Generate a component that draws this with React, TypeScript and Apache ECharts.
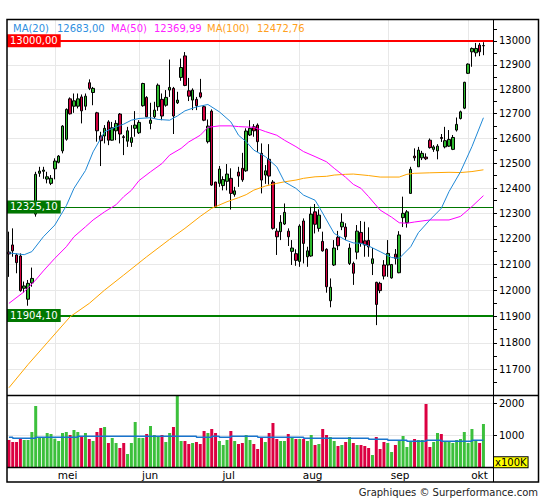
import React, { useEffect, useRef } from "react";
import * as echarts from "echarts";

// ---- data ----
const opens = [12148,12176,12137,12133,12008,11966,12029,12297,12459,12467,
12436,12419,12477,12503,12549,12596,12760,12730,12730,12768,
12730,12826,12786,12703,12609,12609,12666,12592,12630,12698,
12606,12588,12583,12640,12622,12732,12766,12660,12687,12728,
12758,12734,12796,12803,12744,12848,12937,12793,12755,12758,
12785,12728,12586,12710,12424,12419,12410,12427,12439,12375,
12464,12479,12469,12613,12646,12653,12539,12452,12515,12424,
12230,12228,12258,12230,12151,12142,12112,12270,12130,12133,
12306,12241,12190,12159,11960,12098,12206,12247,12246,12104,
12104,12148,12225,12192,12194,12104,12031,12027,12098,12098,
12048,12140,12068,12283,12263,12379,12528,12485,12521,12524,
12592,12555,12549,12603,12565,12568,12555,12633,12680,12722,
12865,12954,12950,12982,12979];

const highs = [12228,12241,12143,12143,12034,12040,12088,12465,12485,12485,
12465,12452,12519,12532,12653,12721,12766,12782,12782,12778,
12782,12840,12809,12707,12626,12653,12673,12666,12673,12702,
12613,12646,12653,12710,12673,12826,12771,12744,12748,12823,
12782,12796,12922,12809,12789,12926,12953,12846,12803,12768,
12842,12734,12676,12717,12425,12488,12447,12496,12479,12405,
12485,12541,12640,12673,12657,12660,12579,12492,12576,12432,
12241,12293,12339,12241,12195,12159,12257,12280,12169,12326,
12337,12316,12228,12163,12046,12195,12231,12300,12261,12182,
12111,12254,12270,12267,12245,12164,12033,12033,12117,12195,
12102,12160,12230,12366,12313,12485,12559,12565,12549,12539,
12599,12572,12576,12617,12646,12633,12613,12684,12712,12830,
12906,12972,12991,12991,12994];

const lows = [12052,12130,12066,11995,11991,11941,12014,12287,12445,12437,
12419,12412,12435,12499,12539,12590,12696,12703,12721,12660,
12714,12796,12734,12586,12488,12579,12572,12590,12592,12579,
12532,12565,12565,12606,12617,12728,12685,12636,12680,12711,
12673,12728,12768,12617,12739,12834,12812,12751,12714,12714,
12762,12669,12579,12409,12322,12405,12391,12391,12315,12366,
12405,12425,12465,12609,12606,12545,12379,12417,12414,12236,
12137,12195,12254,12172,12098,12095,12091,12104,12091,12130,
12221,12228,12150,11991,11935,12094,12156,12234,12195,12098,
12021,12120,12169,12130,12130,12059,11867,11989,12042,12052,
12045,12100,12066,12246,12244,12379,12509,12485,12512,12512,
12558,12545,12515,12585,12559,12565,12552,12627,12676,12718,
12862,12892,12934,12936,12940];

const closes = [12141,12153,12107,11999,12017,12027,12046,12455,12468,12472,
12445,12439,12508,12528,12649,12717,12699,12752,12760,12711,
12771,12803,12803,12630,12590,12640,12592,12642,12660,12617,
12603,12630,12602,12653,12664,12823,12687,12673,12714,12816,
12690,12766,12807,12690,12755,12889,12815,12771,12796,12732,
12768,12673,12649,12412,12326,12476,12434,12456,12379,12389,
12448,12433,12629,12640,12630,12586,12432,12469,12448,12241,
12208,12265,12304,12208,12164,12116,12250,12182,12153,12297,
12257,12293,12153,12014,12012,12164,12173,12265,12208,12164,
12066,12230,12182,12176,12168,12122,11946,11999,12055,12143,
12100,12124,12215,12300,12306,12475,12521,12552,12539,12517,
12562,12565,12568,12599,12590,12595,12603,12656,12707,12828,
12903,12968,12968,12954,12980];

// volume in units of 100K
const volumes = [844,781,781,886,844,844,1094,1907,938,917,
1063,1031,886,813,1063,1094,1000,1157,1094,969,
1063,875,813,1094,1219,1250,750,906,750,594,
750,406,750,1407,906,906,1031,1282,1000,969,
1000,781,1063,1250,2400,813,813,719,750,781,
719,1125,1063,1188,1063,813,688,844,1125,813,
719,750,1000,844,719,563,906,781,1063,1375,
875,813,813,1031,906,875,875,875,813,1000,
688,719,1188,1000,938,813,656,688,781,938,
750,688,688,656,594,375,938,563,781,750,
469,688,844,969,625,781,875,844,844,1969,
625,781,1063,1031,781,781,750,844,875,1094,
750,1188,844,750,1344];

// volume moving average, [candle index, value] at each change
const volMa = [[0,927],[1,896],[7,927],[18,958],[49,927],[53,958],[55,927],[58,958],
[65,927],[77,896],[94,865],[99,833],[104,802],[109,833],[113,802],[121,833],[124,833]];

const ma20 = [[0,12145],[4,12138],[6,12150],[9,12208],[12,12254],[15,12330],[17,12399],[20,12470],
[22,12545],[25,12626],[28,12646],[30,12657],[32,12673],[34,12680],[37,12683],[39,12676],[42,12673],
[44,12690],[46,12711],[49,12727],[52,12737],[55,12707],[58,12666],[60,12612],[62,12586],[64,12552],
[67,12526],[70,12485],[72,12425],[75,12399],[77,12372],[80,12352],[81,12327],[83,12274],[85,12221],
[88,12195],[90,12184],[92,12182],[94,12172],[97,12150],[100,12127],[102,12124],[105,12169],
[107,12224],[110,12274],[113,12320],[115,12386],[118,12465],[121,12566],[124,12683]];

const ma50 = [[0,11950],[4,11995],[7,12040],[9,12075],[12,12124],[15,12169],[17,12208],[20,12247],
[22,12274],[25,12306],[28,12334],[30,12366],[32,12391],[34,12430],[37,12465],[40,12498],[42,12532],
[45,12559],[47,12585],[50,12612],[52,12644],[55,12650],[58,12650],[60,12647],[64,12644],[67,12627],
[70,12612],[72,12592],[75,12566],[77,12546],[80,12526],[83,12505],[85,12479],[88,12443],[90,12415],
[92,12399],[94,12366],[97,12313],[100,12285],[102,12263],[104,12261],[106,12266],[110,12274],
[115,12274],[118,12288],[121,12327],[124,12370]];

const ma100 = [[0,11631],[5,11718],[10,11800],[16,11899],[21,11950],[25,12001],[30,12059],[36,12130],
[42,12198],[46,12241],[50,12288],[53,12320],[57,12346],[60,12362],[62,12374],[64,12392],[67,12408],
[70,12419],[72,12425],[75,12432],[77,12439],[80,12445],[83,12447],[85,12452],[88,12455],[90,12456],
[94,12450],[97,12444],[102,12444],[104,12455],[106,12459],[110,12461],[115,12463],[118,12462],
[121,12466],[124,12473]];

const monthStarts = [12, 34, 55, 76, 99, 120];
const monthNames = ["mei", "jun", "jul", "aug", "sep", "okt"];
const priceTicks = [11700,11800,11900,12000,12100,12200,12300,12400,12500,12600,12700,12800,12900,13000];
const priceMinorTicks = [11650,11700,11750,11800,11850,11900,11950,12000,12050,12100,12150,12200,12250,
12300,12350,12400,12450,12500,12550,12600,12650,12700,12750,12800,12850,12900,12950,13000,13050];
const volumeTicks = [1000, 2000];
const levelValues = [13000, 12325.1, 11904.1];
const levelLabels = ["13000,00", "12325,10", "11904,10"];
const legendNames = ["MA(20)", "MA(50)", "MA(100)"];
const legendValues = ["12683,00", "12369,99", "12472,76"];
const EMPTY_TRAILING = 2;

// ---- styles ----
const FONT = "DejaVu Sans";
const UP = "#2db82d";
const DOWN = "#d2003e";
const VOL_UP = "#3cc03c";
const VOL_DOWN = "#dc0041";
const MA_COLORS = ["#1f88d6", "#ff00ff", "#ffa500"];
const LEGEND_COLORS = ["#2f8fe0", "#ff22ff", "#ffa020"];
const LEVEL_COLORS = ["#ff0000", "#007700", "#008000"];
const LEVEL_WIDTHS = [2, 1, 2];
const LEVEL_BG = ["#ff0000", "#007700", "#007700"];
const GRID_COLOR = "#e8e8e8";
const Y_MIN = 11604;
const Y_MAX = 13091;

export default function App() {
  const ref = useRef<HTMLDivElement>(null);

  useEffect(() => {
    document.body.style.margin = "0";
    const chart = echarts.init(ref.current as HTMLDivElement, null, { renderer: "svg" });
    const n = opens.length + EMPTY_TRAILING;
    const categories = Array.from({ length: n }, (_, i) => "d" + i);

    const candleData = opens.map((o, i) => [o, closes[i], lows[i], highs[i]]);
    const volData = volumes.map((v, i) => ({
      value: v,
      itemStyle: { color: closes[i] >= opens[i] ? VOL_UP : VOL_DOWN },
    }));

    const vGrid = monthStarts.map((i) => ({ xAxis: i }));
    const hGrid = priceTicks.map((v) => ({ yAxis: v }));

    const option: any = {
      animation: false,
      backgroundColor: "#ffffff",
      textStyle: { fontFamily: FONT },
      grid: [
        { left: 7, top: 19, width: 486, height: 376, containLabel: false, outerBoundsMode: "none" },
        { left: 7, top: 395, width: 486, height: 72, containLabel: false, outerBoundsMode: "none" },
      ],
      xAxis: [
        {
          type: "category", gridIndex: 0, data: categories, boundaryGap: true,
          axisLine: { show: false }, axisTick: { show: false }, axisLabel: { show: false }, splitLine: { show: false },
        },
        {
          type: "category", gridIndex: 1, data: categories, boundaryGap: true,
          axisLine: { show: false }, axisTick: { show: false }, splitLine: { show: false },
          axisLabel: {
            interval: (i: number) => monthStarts.indexOf(i) >= 0,
            formatter: (_v: string, i: number) => {
              const k = monthStarts.indexOf(i);
              return k >= 0 ? monthNames[k] : "";
            },
            align: "left", padding: [0, 0, 0, 3], margin: 2,
            fontSize: 10.5, color: "#000", fontFamily: FONT,
          },
        },
      ],
      yAxis: [
        {
          type: "log", logBase: 10, gridIndex: 0, position: "left", min: Y_MIN, max: Y_MAX, show: false,
        },
        {
          type: "value", gridIndex: 0, position: "right", min: Math.log(Y_MIN), max: Math.log(Y_MAX),
          axisLine: { show: false }, splitLine: { show: false },
          axisTick: { show: true, customValues: priceMinorTicks.map((v) => Math.log(v)), length: 4, lineStyle: { color: "#000" } },
          axisLabel: {
            customValues: priceTicks.map((v) => Math.log(v)),
            formatter: (v: number) => String(Math.round(Math.exp(v))),
            fontSize: 10, color: "#000", margin: 6, padding: [0, 0, 3, 0], fontFamily: FONT,
          },
        },
        {
          type: "value", gridIndex: 1, position: "right", min: 0, max: 2250, interval: 1000,
          axisLine: { show: false },
          splitLine: { show: true, lineStyle: { color: GRID_COLOR, width: 1 } },
          axisTick: { show: true, customValues: volumeTicks, length: 4, lineStyle: { color: "#000" } },
          axisLabel: {
            customValues: volumeTicks,
            formatter: (v: number) => String(Math.round(v)),
            fontSize: 10, color: "#000", margin: 6, padding: [0, 0, 3, 0], fontFamily: FONT,
          },
        },
      ],
      series: [
        {
          type: "candlestick", name: "price", xAxisIndex: 0, yAxisIndex: 0, data: candleData, barWidth: 3, z: 3,
          itemStyle: { color: UP, color0: DOWN, borderColor: "#000", borderColor0: "#000", borderWidth: 1 },
          markLine: {
            z: 2, silent: true, symbol: ["none", "none"], label: { show: false }, animation: false,
            data: levelValues.map((v, k) => ({ yAxis: v, lineStyle: { color: LEVEL_COLORS[k], width: LEVEL_WIDTHS[k], type: "solid" } })),
          },
        },
        {
          type: "line", name: "MA(100)", xAxisIndex: 0, yAxisIndex: 0, data: ma100, showSymbol: false, z: 4,
          lineStyle: { color: MA_COLORS[2], width: 1 },
          markLine: {
            z: 1, silent: true, symbol: ["none", "none"], label: { show: false }, animation: false,
            lineStyle: { color: GRID_COLOR, width: 1, type: "solid" },
            data: [...vGrid, ...hGrid],
          },
        },
        {
          type: "line", name: "MA(50)", xAxisIndex: 0, yAxisIndex: 0, data: ma50, showSymbol: false, z: 4,
          lineStyle: { color: MA_COLORS[1], width: 1 },
        },
        {
          type: "line", name: "MA(20)", xAxisIndex: 0, yAxisIndex: 0, data: ma20, showSymbol: false, z: 4,
          lineStyle: { color: MA_COLORS[0], width: 1 },
        },
        {
          type: "bar", name: "volume", xAxisIndex: 1, yAxisIndex: 2, data: volData, barWidth: 3, z: 3,
          markLine: {
            z: 1, silent: true, symbol: ["none", "none"], label: { show: false }, animation: false,
            lineStyle: { color: GRID_COLOR, width: 1, type: "solid" },
            data: vGrid,
          },
        },
        {
          type: "line", name: "volMA", xAxisIndex: 1, yAxisIndex: 2, data: volMa, step: "end", showSymbol: false, z: 4,
          lineStyle: { color: "#1874cd", width: 1.5 },
        },
      ],
    };

    chart.setOption(option);

    const py = (v: number) => chart.convertToPixel({ yAxisIndex: 0 }, v) as number;
    const legendX = [13, 57, 111, 154, 207, 257];
    const graphics: any[] = [];
    legendNames.forEach((name, k) => {
      graphics.push({
        type: "text", x: legendX[k * 2], y: 28, z: 60, silent: true,
        style: { text: name, fill: LEGEND_COLORS[k], fontSize: 10, fontFamily: FONT, verticalAlign: "middle" },
      });
      graphics.push({
        type: "text", x: legendX[k * 2 + 1], y: 28, z: 60, silent: true,
        style: { text: legendValues[k], fill: LEGEND_COLORS[k], fontSize: 10, fontFamily: FONT, verticalAlign: "middle" },
      });
    });
    levelValues.forEach((v, k) => {
      graphics.push({
        type: "text", x: 7, y: py(v), z: 60, silent: true,
        style: {
          text: levelLabels[k], fill: "#ffffff", backgroundColor: LEVEL_BG[k], padding: [1, 3, 1, 3],
          fontSize: 10, lineHeight: 11, fontFamily: FONT, verticalAlign: "middle", align: "left",
        },
      });
    });
    graphics.push({
      type: "text", x: 494, y: 462.3, z: 60, silent: true,
      style: {
        text: "x100K", fill: "#000", backgroundColor: "#ffff00", borderColor: "#000", borderWidth: 1,
        padding: [0, 1, 0, 1], fontSize: 10, lineHeight: 10, fontFamily: FONT, verticalAlign: "middle",
      },
    });
    graphics.push({
      type: "text", x: 538, y: 492, z: 60, silent: true,
      style: { text: "Graphiques © Surperformance.com", fill: "#222", fontSize: 10, fontFamily: FONT, align: "right", verticalAlign: "middle" },
    });
    // frame
    graphics.push({ type: "rect", z: 100, silent: true, shape: { x: 7, y: 19.5, width: 531.5, height: 462.5 }, style: { fill: "none", stroke: "#000", lineWidth: 1.5 } });
    graphics.push({ type: "line", z: 100, silent: true, shape: { x1: 7, y1: 395.5, x2: 538.5, y2: 395.5 }, style: { stroke: "#000", lineWidth: 1.5 } });
    graphics.push({ type: "line", z: 100, silent: true, shape: { x1: 7, y1: 467.5, x2: 493.5, y2: 467.5 }, style: { stroke: "#000", lineWidth: 1.5 } });
    graphics.push({ type: "line", z: 100, silent: true, shape: { x1: 493.5, y1: 19.5, x2: 493.5, y2: 482 }, style: { stroke: "#000", lineWidth: 1 } });

    chart.setOption({ graphic: graphics });

    return () => chart.dispose();
  }, []);

  return <div ref={ref} style={{ width: 545, height: 500, background: "#fff" }} />;
}
